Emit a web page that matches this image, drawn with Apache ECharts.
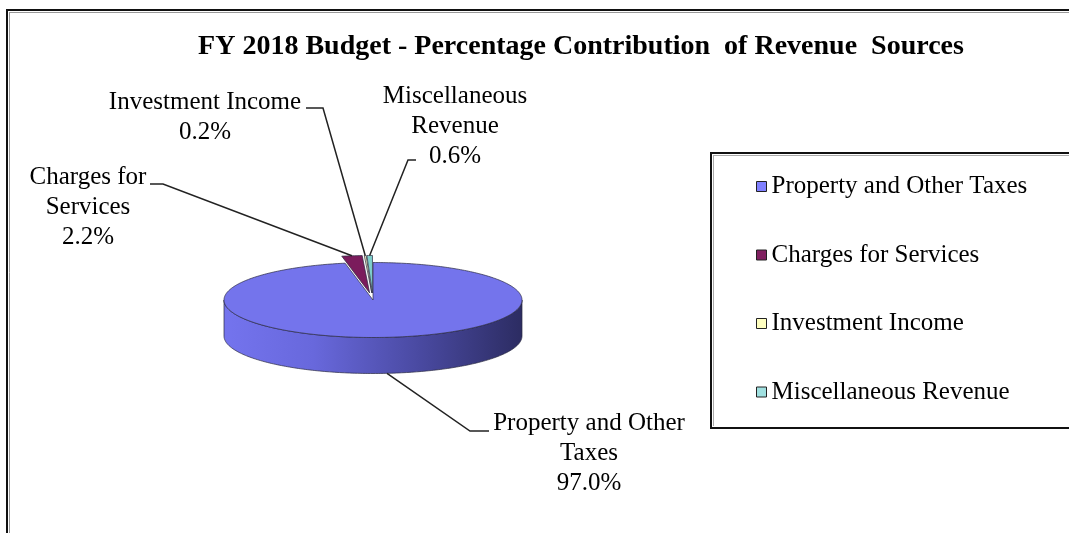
<!DOCTYPE html>
<html><head><meta charset="utf-8">
<script src="https://cdn.jsdelivr.net/npm/echarts@6/dist/echarts.min.js"></script>
<style>html,body{margin:0;padding:0;background:#fff;overflow:hidden}#c{width:1069px;height:533px}</style>
</head><body><div id="c"></div>
<script>
// ---- data ----
const categories = ['Property and Other Taxes', 'Charges for Services', 'Investment Income', 'Miscellaneous Revenue'];
const values = [97.0, 2.2, 0.2, 0.6];
const labelNames = ['Property and Other\nTaxes', 'Charges for\nServices', 'Investment Income', 'Miscellaneous\nRevenue'];
const titleText = 'FY 2018 Budget - Percentage Contribution  of Revenue  Sources';

// ---- styles / layout ----
const legendColors = ['#8080ff', '#802060', '#ffffc0', '#a0e0e0'];
const faceColors = ['#7474ec', '#7b1c5c', '#f5f5c0', '#7fd0cc'];
const pie = { cx: 373, cy: 300, rx: 149, ry: 37.5, depth: 36 };
const explodeDist = [0, 28, 28, 28];
const labelLayout = [
  { x: 589, y: 408, line: [[489, 431], [470, 431]], bottom: true },
  { x: 88, y: 162, line: [[150, 184], [163, 184]] },
  { x: 205, y: 87, line: [[306, 108], [323, 108]] },
  { x: 455, y: 81, line: [[416, 160], [408, 160]] }
];
const FONT = '"Liberation Serif", "Times New Roman", serif';

const total = values.reduce((a, b) => a + b, 0);
const rad = d => d * Math.PI / 180;
function pt(theta, dx, dy, extraY) {
  return [pie.cx + dx + pie.rx * Math.sin(rad(theta)),
          pie.cy + dy - pie.ry * Math.cos(rad(theta)) + (extraY || 0)];
}
function arc(a0, a1, dx, dy, extraY) {
  const pts = [];
  const n = Math.max(2, Math.ceil(Math.abs(a1 - a0)));
  for (let k = 0; k <= n; k++) pts.push(pt(a0 + (a1 - a0) * k / n, dx, dy, extraY));
  return pts;
}

function makeRender(i) {
  return function (params, api) {
    const v = api.value(0);
    let before = 0;
    for (let k = 0; k < i; k++) before += values[k];
    const a0 = before / total * 360;
    const a1 = a0 + v / total * 360;
    const mid = (a0 + a1) / 2;
    const d = explodeDist[i];
    const dx = d * Math.sin(rad(mid));
    const dy = -d * Math.cos(rad(mid)) * pie.ry / pie.rx;
    const children = [];
    const s0 = Math.max(a0, 90), s1 = Math.min(a1, 270);
    if (s1 > s0) {
      const top = arc(s0, s1, dx, dy, 0);
      const bot = arc(s1, s0, dx, dy, pie.depth);
      children.push({
        type: 'polygon',
        shape: { points: top.concat(bot) },
        style: {
          fill: new echarts.graphic.LinearGradient(0, 0, 1, 0, [
            { offset: 0, color: '#7474ee' },
            { offset: 0.3, color: '#6868dc' },
            { offset: 0.65, color: '#4a4aa2' },
            { offset: 1, color: '#2c2c62' }
          ]),
          stroke: '#2a2a40', lineWidth: 0.7
        }
      });
    }
    const face = [[pie.cx + dx, pie.cy + dy]].concat(arc(a0, a1, dx, dy, 0));
    children.push({
      type: 'polygon',
      shape: { points: face },
      style: { fill: faceColors[i], stroke: '#2a2a40', lineWidth: 0.7 }
    });
    const L = labelLayout[i];
    const target = L.bottom ? pt(mid, dx, dy, pie.depth) : pt(mid, dx, dy, 0);
    children.push({
      type: 'polyline',
      shape: { points: L.line.concat([target]) },
      style: { stroke: '#222', lineWidth: 1.5, fill: null }
    });
    const pct = (v / total * 100).toFixed(1) + '%';
    children.push({
      type: 'text',
      style: {
        text: labelNames[i] + '\n' + pct,
        x: L.x, y: L.y,
        align: 'center', verticalAlign: 'top',
        font: '25px ' + FONT, lineHeight: 30, fill: '#000'
      }
    });
    return { type: 'group', children };
  };
}

const chart = echarts.init(document.getElementById('c'), null, { renderer: 'canvas' });
chart.setOption({
  animation: false,
  backgroundColor: '#fff',
  title: {
    text: titleText, left: 581, top: 33, textAlign: 'center', padding: 0,
    textStyle: { fontFamily: FONT, fontWeight: 'bold', fontSize: 28, color: '#000' }
  },
  legend: {
    orient: 'vertical', left: 756, top: 174, padding: 0,
    itemWidth: 10, itemHeight: 10, itemGap: 43.5, icon: 'rect',
    selectedMode: false,
    itemStyle: { borderColor: '#222', borderWidth: 1 },
    textStyle: { fontFamily: FONT, fontSize: 25, lineHeight: 25, color: '#000' },
    data: categories
  },
  graphic: [
    { type: 'line', shape: { x1: 7, y1: 10, x2: 7, y2: 533 }, style: { stroke: '#111', lineWidth: 2 }, z: 100 },
    { type: 'line', shape: { x1: 6, y1: 10, x2: 1069, y2: 10 }, style: { stroke: '#111', lineWidth: 2 }, z: 100 },
    { type: 'line', shape: { x1: 9.5, y1: 12, x2: 9.5, y2: 533 }, style: { stroke: '#999', lineWidth: 1 }, z: 100 },
    { type: 'line', shape: { x1: 9, y1: 12.5, x2: 1069, y2: 12.5 }, style: { stroke: '#999', lineWidth: 1 }, z: 100 },
    { type: 'line', shape: { x1: 711, y1: 152, x2: 711, y2: 429 }, style: { stroke: '#111', lineWidth: 2 }, z: 100 },
    { type: 'line', shape: { x1: 710, y1: 153, x2: 1069, y2: 153 }, style: { stroke: '#111', lineWidth: 2 }, z: 100 },
    { type: 'line', shape: { x1: 710, y1: 428, x2: 1069, y2: 428 }, style: { stroke: '#111', lineWidth: 2 }, z: 100 },
    { type: 'line', shape: { x1: 713.5, y1: 155, x2: 713.5, y2: 426 }, style: { stroke: '#aaa', lineWidth: 1 }, z: 100 },
    { type: 'line', shape: { x1: 713, y1: 155.5, x2: 1069, y2: 155.5 }, style: { stroke: '#aaa', lineWidth: 1 }, z: 100 }
  ],
  series: categories.map((name, i) => ({
    type: 'custom', name, coordinateSystem: 'none', silent: true,
    itemStyle: { color: legendColors[i] },
    data: [[values[i]]],
    renderItem: makeRender(i)
  }))
});
</script></body></html>
